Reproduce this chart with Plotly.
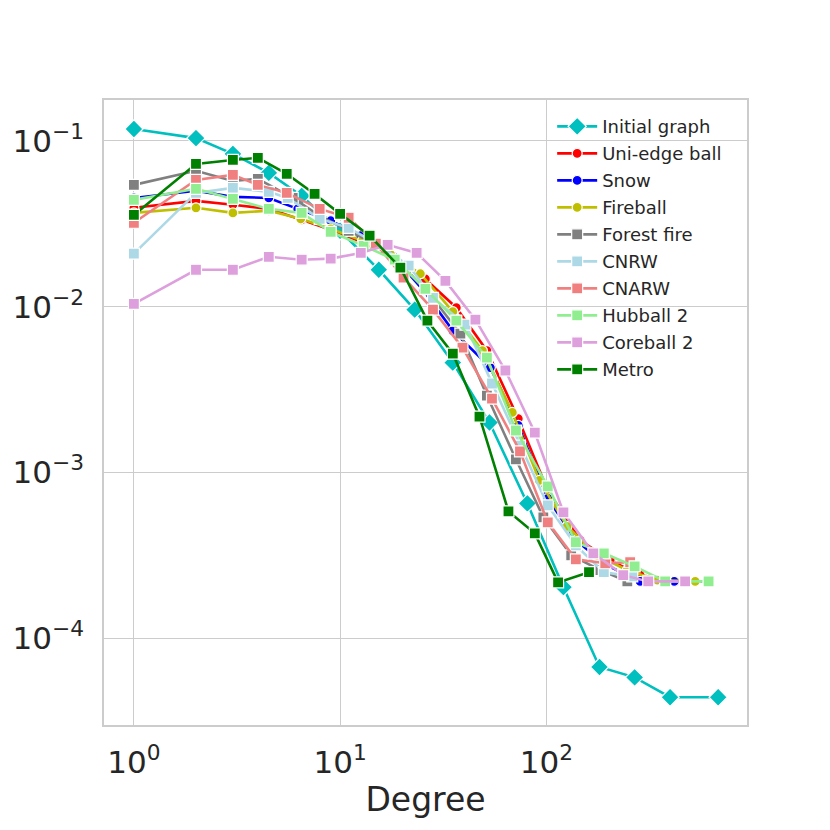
import plotly.graph_objects as go

# ---- data (degree, fraction of nodes) ----
names = ["Initial graph", "Uni-edge ball", "Snow", "Fireball", "Forest fire",
         "CNRW", "CNARW", "Hubball 2", "Coreball 2", "Metro"]
colors = ["#00BFBF", "#FF0000", "#0000FF", "#BFBF00", "#808080",
          "#ADD8E6", "#F08080", "#90EE90", "#DDA0DD", "#008000"]
symbols = ["diamond", "circle", "circle", "circle", "square",
           "square", "square", "square", "square", "square"]

initial_x = [1, 2, 3.02, 4.51, 6.51, 10.0, 15.4, 23.0, 35.2, 53.0, 80.9, 121, 181, 268, 398, 681]
initial_y = [0.118, 0.104, 0.0835, 0.0642, 0.0466, 0.0287, 0.0167, 0.0096, 0.0046, 0.0020,
             0.00065, 0.000203, 6.7e-5, 5.8e-5, 4.4e-5, 4.4e-5]

uni_x = [1, 2, 3.02, 4.51, 6.51, 9.0, 13.0, 18.6, 25.9, 36.6, 51.5, 73.1, 101.6, 146, 204, 285, 422]
uni_y = [0.0395, 0.0435, 0.0412, 0.0389, 0.0334, 0.0291, 0.0243, 0.0195, 0.0147, 0.00986,
         0.00543, 0.00211, 0.000779, 0.000389, 0.000295, 0.000240, 0.00022]

snow_x = [1, 2, 3.02, 4.51, 6.23, 9.0, 12.6, 18.0, 25.4, 35.2, 53.5, 73.1, 101.6, 139, 197, 285, 417, 602]
snow_y = [0.0453, 0.0500, 0.0460, 0.0453, 0.0389, 0.0330, 0.0268, 0.0203, 0.0125, 0.00717,
          0.00429, 0.00192, 0.000697, 0.000389, 0.000275, 0.00022, 0.00022, 0.00022]

fire_x = [1, 2, 3.02, 4.51, 6.44, 9.0, 12.85, 17.6, 24.5, 35.2, 49.0, 68.4, 92.5, 126, 177, 247, 345, 527]
fire_y = [0.0368, 0.0395, 0.0368, 0.0379, 0.0339, 0.0295, 0.0250, 0.0206, 0.0158, 0.00933,
          0.00543, 0.00230, 0.000895, 0.000473, 0.000316, 0.000257, 0.000224, 0.00022]

forest_x = [1, 2, 3.02, 3.99, 5.89, 7.96, 11.0, 15.4, 20.8, 28.2, 38.3, 51.5, 71.2, 96.7, 132, 183, 247]
forest_y = [0.0543, 0.0660, 0.0574, 0.0590, 0.0453, 0.0353, 0.0287, 0.0233, 0.0169, 0.0112,
            0.00688, 0.00291, 0.00120, 0.000536, 0.000316, 0.000257, 0.00022]

cnrw_x = [1, 2, 3.02, 4.51, 5.57, 7.96, 11.0, 15.4, 21.5, 28.2, 40.5, 54.5, 74.5, 101.6, 139, 190, 261]
cnrw_y = [0.0209, 0.0486, 0.0521, 0.0493, 0.0453, 0.0339, 0.0299, 0.0236, 0.0177, 0.0113,
          0.00779, 0.00344, 0.00145, 0.000632, 0.000363, 0.000250, 0.000236]

cnarw_x = [1, 2, 3.02, 3.99, 5.51, 7.96, 11.0, 14.9, 20.3, 28.2, 39.2, 54.5, 74.5, 101.6, 139, 193, 255]
cnarw_y = [0.0321, 0.0582, 0.0624, 0.0543, 0.0486, 0.0389, 0.0344, 0.0240, 0.0150, 0.00959,
           0.00566, 0.00279, 0.00134, 0.000500, 0.000299, 0.000283, 0.000287]

hub_x = [1, 2, 3.02, 4.51, 6.51, 9.0, 13.0, 18.4, 25.9, 36.6, 51.5, 71.2, 101.6, 139, 190, 268, 377, 612]
hub_y = [0.0441, 0.0514, 0.0447, 0.0389, 0.0368, 0.0283, 0.0233, 0.0192, 0.0128, 0.00823,
         0.00493, 0.00179, 0.000824, 0.000379, 0.000325, 0.000271, 0.00022, 0.00022]

core_x = [1, 2, 3.02, 4.51, 6.51, 9.0, 12.6, 17.0, 23.5, 32.4, 45.3, 63.3, 87.9, 121, 169, 236, 312, 471]
core_y = [0.0104, 0.0167, 0.0167, 0.0200, 0.0192, 0.0195, 0.0211, 0.0236, 0.0211, 0.0143,
          0.00835, 0.00412, 0.00174, 0.000574, 0.000325, 0.000240, 0.00022, 0.00022]

metro_x = [1, 2, 3.02, 3.99, 5.51, 7.52, 10.0, 13.9, 19.6, 26.5, 35.2, 47.4, 65.5, 87.9, 114, 161]
metro_y = [0.0358, 0.0727, 0.0768, 0.0790, 0.0633, 0.0479, 0.0363, 0.0268, 0.0172, 0.00823,
           0.00521, 0.00217, 0.000582, 0.000429, 0.000217, 0.000250]

xs = [initial_x, uni_x, snow_x, fire_x, forest_x, cnrw_x, cnarw_x, hub_x, core_x, metro_x]
ys = [initial_y, uni_y, snow_y, fire_y, forest_y, cnrw_y, cnarw_y, hub_y, core_y, metro_y]

x_title = "Degree"
x_tickvals = [1, 10, 100]
x_ticktext = ["10<sup>0</sup>", "10<sup>1</sup>", "10<sup>2</sup>"]
y_tickvals = [1e-4, 1e-3, 1e-2, 1e-1]
y_ticktext = ["10<sup>−4</sup>", "10<sup>−3</sup>", "10<sup>−2</sup>", "10<sup>−1</sup>"]

fig = go.Figure()
for i, (n, c, s, x, y) in enumerate(zip(names, colors, symbols, xs, ys)):
    fig.add_trace(go.Scatter(
        x=x, y=y, name=n, mode="lines+markers",
        line=dict(color=c, width=2.6),
        marker=dict(symbol=s, color=c, size=14 if s == "diamond" else (11 if s == "square" else 10),
                    line=dict(color="white", width=1.2)),
        legendgroup=f"g{i}",
    ))

font_family = "DejaVu Sans"
axis_common = dict(
    type="log", automargin=False,
    showgrid=True, gridcolor="#cccccc", gridwidth=1.3,
    showline=True, linecolor="#cccccc", linewidth=1.6, mirror=True,
    ticks="", zeroline=False,
    tickfont=dict(family=font_family, size=31, color="#262626"),
)

fig.update_layout(
    width=830, height=830,
    margin=dict(l=96, r=91, t=92, b=113),
    paper_bgcolor="white", plot_bgcolor="white",
    font=dict(family=font_family, color="#262626"),
    xaxis=dict(range=[-0.145, 2.973], tickvals=x_tickvals, ticktext=x_ticktext,
               ticklabelstandoff=9,
               title=dict(text=x_title, font=dict(size=33), standoff=8),
               **axis_common),
    yaxis=dict(range=[-4.524, -0.753], tickvals=y_tickvals, ticktext=y_ticktext,
               ticklabelstandoff=12,
               **axis_common),
    legend=dict(x=0.697, y=0.987, xanchor="left", yanchor="top",
                bgcolor="rgba(0,0,0,0)", borderwidth=0,
                font=dict(family=font_family, size=18, color="#262626"),
                traceorder="grouped", tracegroupgap=0.6,
                itemwidth=40),
    showlegend=True,
)

fig.write_html("out.html")
